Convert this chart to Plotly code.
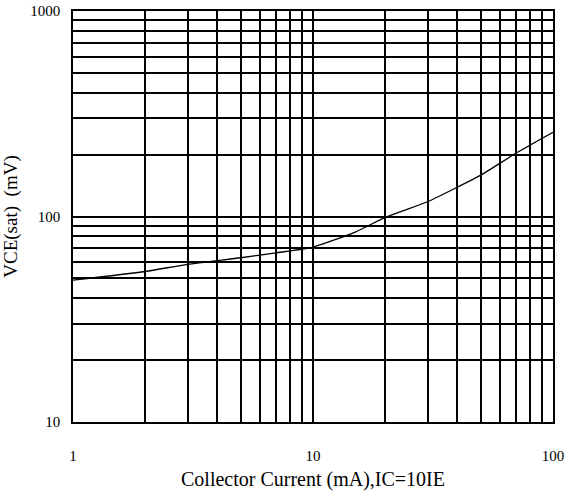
import plotly.graph_objects as go

# Data
current_mA = [1, 2, 3, 5, 7, 10, 15, 20, 30, 40, 50, 70, 100]
vce_sat_mV = [49, 54, 58.5, 63, 66.5, 71, 84, 99, 118, 139, 159, 203, 257]

x_tickvals = [1, 2, 3, 4, 5, 6, 7, 8, 9, 10, 20, 30, 40, 50, 60, 70, 80, 90, 100]
x_ticktext = ["1"] + [""] * 8 + ["10"] + [""] * 8 + ["100"]
y_tickvals = [10, 20, 30, 40, 50, 60, 70, 80, 90, 100, 200, 300, 400, 500, 600, 700, 800, 900, 1000]
y_ticktext = ["10"] + [""] * 8 + ["100"] + [""] * 8 + ["1000"]

x_title = "Collector Current (mA),IC=10IE"
y_title = "VCE(sat)  (mV)"

font_family = "Liberation Serif"

fig = go.Figure()
fig.add_trace(go.Scatter(
    x=current_mA, y=vce_sat_mV, mode="lines",
    line=dict(color="black", width=1.3, shape="spline", smoothing=0.6),
    showlegend=False, hoverinfo="skip",
))

fig.update_layout(
    width=576, height=495,
    margin=dict(l=73, r=23, t=11, b=73),
    paper_bgcolor="white", plot_bgcolor="white",
    font=dict(family=font_family, color="black", size=15),
    xaxis=dict(
        type="log", range=[0, 2], automargin=False,
        tickmode="array", tickvals=x_tickvals, ticktext=x_ticktext,
        showgrid=True, gridcolor="black", gridwidth=1.5,
        showline=True, linecolor="black", linewidth=1.5, mirror=True,
        ticks="", ticklabelstandoff=19, zeroline=False,
        tickfont=dict(size=15, family=font_family),
        title=dict(text=x_title, font=dict(size=20, family=font_family), standoff=9),
    ),
    yaxis=dict(
        type="log", range=[1, 3], automargin=False,
        tickmode="array", tickvals=y_tickvals, ticktext=y_ticktext,
        showgrid=True, gridcolor="black", gridwidth=1.5,
        showline=True, linecolor="black", linewidth=1.5, mirror=True,
        ticks="", ticklabelstandoff=8, zeroline=False,
        tickfont=dict(size=15, family=font_family),
        title=dict(text=y_title, font=dict(size=19, family=font_family), standoff=8),
    ),
)

# remove the default 8px page margin so the figure sits at the window's corner
fig.write_html("out.html", config={"displayModeBar": False},
               post_script="document.body.style.margin='0';")
